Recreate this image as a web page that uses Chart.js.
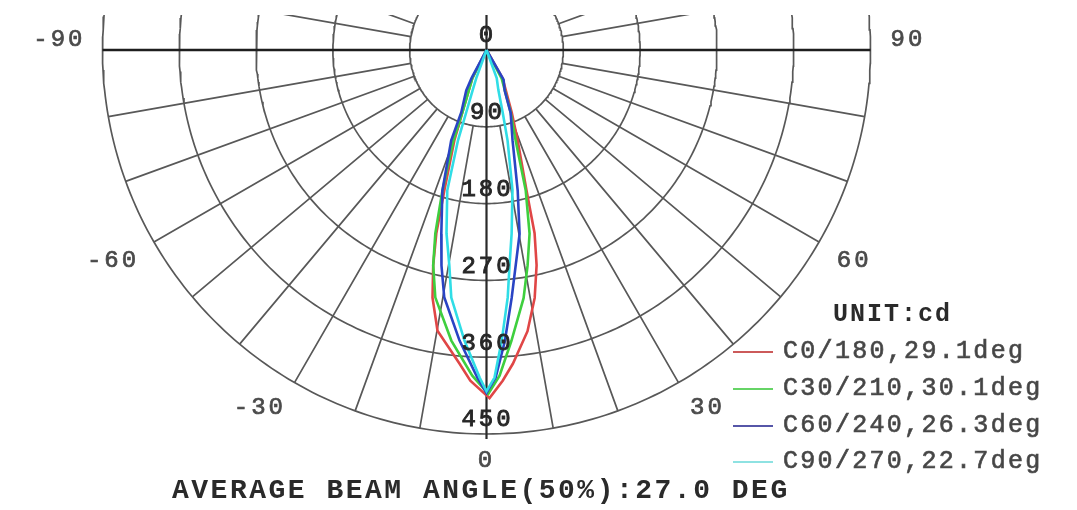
<!DOCTYPE html>
<html>
<head>
<meta charset="utf-8">
<script src="https://cdn.jsdelivr.net/npm/chart.js@4.4.1/dist/chart.umd.min.js"></script>
<style>
  body { margin: 0; background: #fff; }
  #wrap { position: relative; width: 1077px; height: 510px; overflow: hidden; background: #fff; }
  #polar { position: absolute; left: 0; top: 0; }
  .txt { position: absolute; font-family: "Liberation Mono", monospace; white-space: nowrap; }
  .unit { left: 833px; top: 300px; font-size: 25px; line-height: 30px; font-weight: bold; color: #2a2a2a; letter-spacing: 2px; }
  .item { left: 783px; font-size: 25px; line-height: 30px; color: #444; letter-spacing: 2.3px; -webkit-text-stroke: 0.7px #505050; }
  .swatch { position: absolute; left: 733px; width: 40px; height: 2px; }
  .title { left: 172px; top: 476px; font-size: 28px; line-height: 30px; font-weight: bold; color: #2a2a2a; letter-spacing: 2.5px; }
</style>
</head>
<body>
<div id="wrap">
  <canvas id="polar" width="1077" height="510"></canvas>
  <div class="txt unit">UNIT:cd</div>
  <div id="legend"></div>
  <div class="txt title">AVERAGE BEAM ANGLE(50%):27.0 DEG</div>
</div>
<script>
// rings of the candela grid and the angle labels
const ringValues = [90, 180, 270, 360, 450];
const angleLabels = [-90, -60, -30, 0, 30, 60, 90];

// legend names
const seriesNames = ['C0/180,29.1deg', 'C30/210,30.1deg', 'C60/240,26.3deg', 'C90/270,22.7deg'];

// C0/180 : gamma (deg) and intensity (cd)
const c0Gamma = [-90, -26.6, -21.2, -19.6, -16.7, -15.3, -13.9, -12.3, -9.9, -4.9, -2.8, 0.5, 2.8, 4.8, 8.3, 11.0, 13.1, 14.7, 15.9, 19.0, 22.0, 29.7, 90];
const c0Cd = [0, 37, 78, 112, 172, 223, 260, 297, 334, 369, 388, 408, 388, 369, 333, 296, 259, 222, 171, 112, 79, 38, 0];

// C30/210
const c30Gamma = [-90, -26.6, -21.2, -20.1, -17.4, -15.6, -13.9, -11.7, -6.9, -2.5, 0.3, 2.3, 4.9, 8.5, 10.8, 13.2, 15.6, 17.9, 21.2, 28.0, 90];
const c30Cd = [0, 37, 78, 113, 173, 223, 260, 296, 343, 382, 403, 382, 342, 294, 257, 221, 171, 111, 78, 38, 0];

// C60/240
const c60Gamma = [-90, -28.0, -26.6, -22.0, -21.3, -17.4, -13.8, -11.8, -9.7, -5.3, -1.6, 0, 1.6, 3.6, 5.8, 7.7, 10.2, 12.5, 16.1, 21.0, 24.2, 30.0, 90];
const c60Cd = [0, 37, 53, 79, 114, 173, 222, 258, 294, 342, 384, 402, 384, 342, 292, 255, 219, 169, 110, 79, 52, 40, 0];

// C90/270
const c90Gamma = [-90, -20.0, -19.0, -18.0, -17.5, -15.6, -12.3, -9.8, -8.1, -4.3, -1.2, 0, 1.4, 3.0, 4.9, 6.1, 7.8, 10.5, 13.1, 14.5, 16.5, 20.0, 90];
const c90Cd = [0, 35, 50, 77, 111, 171, 220, 256, 293, 342, 384, 400, 384, 341, 291, 254, 217, 167, 109, 76, 49, 35, 0];

const seriesColors = ['#e04646', '#3ecf3e', '#2a44c4', '#30dde6'];
const legendColors = ['#cc5a5a', '#66d466', '#5656a8', '#8ee2e2'];

// gamma measured from nadir, positive to the right
function polarPoint(gamma, cd) {
    const a = gamma * Math.PI / 180;
    return { x: cd * Math.sin(a), y: -cd * Math.cos(a) };
}

function curve(gammas, cds) {
    return gammas.map((g, i) => polarPoint(g, cds[i]));
}

// grid: full rings and 10 degree spokes starting at the first ring
const ringPts = [];
ringValues.forEach(r => {
    for (let a = 0; a <= 360; a += 1) ringPts.push(polarPoint(a, r));
    ringPts.push({ x: NaN, y: NaN });
});
const spokePts = [];
for (let a = 0; a < 360; a += 10) {
    if (a % 90 === 0) continue;
    spokePts.push(polarPoint(a, ringValues[0]));
    spokePts.push(polarPoint(a, ringValues[ringValues.length - 1]));
    spokePts.push({ x: NaN, y: NaN });
}
const rMax = ringValues[ringValues.length - 1];

const pxPerCd = 384 / 450;
const cx = 486.5, cy = 50, padTop = 15;

function label(ctx, s, px, py) {
    ctx.strokeText(s, px, py);
    ctx.fillText(s, px, py);
}

const labelPlugin = {
    id: 'polarLabels',
    afterDatasetsDraw(chart) {
        const { ctx, scales: { x, y } } = chart;
        ctx.save();
        ctx.font = '24px "Liberation Mono"';
        ctx.letterSpacing = '3px';
        ctx.textBaseline = 'middle';
        ctx.lineWidth = 0.9;
        // ring values along the vertical axis
        ctx.fillStyle = '#262626';
        ctx.strokeStyle = '#262626';
        ctx.textAlign = 'center';
        ringValues.forEach(r => {
            label(ctx, String(r), x.getPixelForValue(0) + 1, y.getPixelForValue(-r) - 14);
        });
        label(ctx, '0', x.getPixelForValue(0) + 1, y.getPixelForValue(0) - 14);
        // angle labels round the outside
        ctx.fillStyle = '#4a4a4a';
        ctx.strokeStyle = '#4a4a4a';
        ctx.lineWidth = 0.7;
        angleLabels.forEach(a => {
            const p = polarPoint(a, 470);
            let px = x.getPixelForValue(p.x);
            let py = y.getPixelForValue(p.y);
            if (a < 0) ctx.textAlign = 'right';
            else if (a > 0) { ctx.textAlign = 'left'; px += 3; }
            else ctx.textAlign = 'center';
            py += Math.abs(a) === 90 ? -10 : 10;
            label(ctx, String(a), px, py);
        });
        ctx.restore();
    }
};

const names = seriesNames;
const curves = [curve(c0Gamma, c0Cd), curve(c30Gamma, c30Cd), curve(c60Gamma, c60Cd), curve(c90Gamma, c90Cd)];

const datasets = [
    { label: 'rings', data: ringPts, borderColor: '#585858', borderWidth: 1.7, order: 10 },
    { label: 'spokes', data: spokePts, borderColor: '#585858', borderWidth: 1.7, order: 10 },
    { label: 'h-axis', data: [polarPoint(-90, rMax), polarPoint(90, rMax)], borderColor: '#1e1e1e', borderWidth: 2.6, order: 9 },
    { label: 'v-axis', data: [polarPoint(180, 100), polarPoint(0, rMax + 6)], borderColor: '#2a2a2a', borderWidth: 2.2, order: 9 }
];
curves.forEach((pts, i) => {
    datasets.push({ label: names[i], data: pts, borderColor: seriesColors[i], borderWidth: 2.6, order: 4 - i });
});

const ctx = document.getElementById('polar').getContext('2d');
const chart = new Chart(ctx, {
    type: 'scatter',
    data: { datasets: datasets },
    options: {
        responsive: false,
        animation: false,
        events: [],
        showLine: true,
        elements: { point: { radius: 0 }, line: { tension: 0 } },
        layout: { padding: { top: padTop, left: 0, right: 0, bottom: 0 } },
        plugins: { legend: { display: false }, tooltip: { enabled: false } },
        scales: {
            x: { type: 'linear', display: false, min: -cx / pxPerCd, max: (1077 - cx) / pxPerCd },
            y: { type: 'linear', display: false, min: -(510 - cy) / pxPerCd, max: (cy - padTop) / pxPerCd }
        }
    },
    plugins: [labelPlugin]
});

// html legend
const legend = document.getElementById('legend');
const rowY = [352, 389, 426, 462];
names.forEach((n, i) => {
    const sw = document.createElement('div');
    sw.className = 'swatch';
    sw.style.top = (rowY[i] - 1) + 'px';
    sw.style.background = legendColors[i];
    legend.appendChild(sw);
    const t = document.createElement('div');
    t.className = 'txt item';
    t.style.top = (rowY[i] - 15) + 'px';
    t.textContent = n;
    legend.appendChild(t);
});
</script>
</body>
</html>
